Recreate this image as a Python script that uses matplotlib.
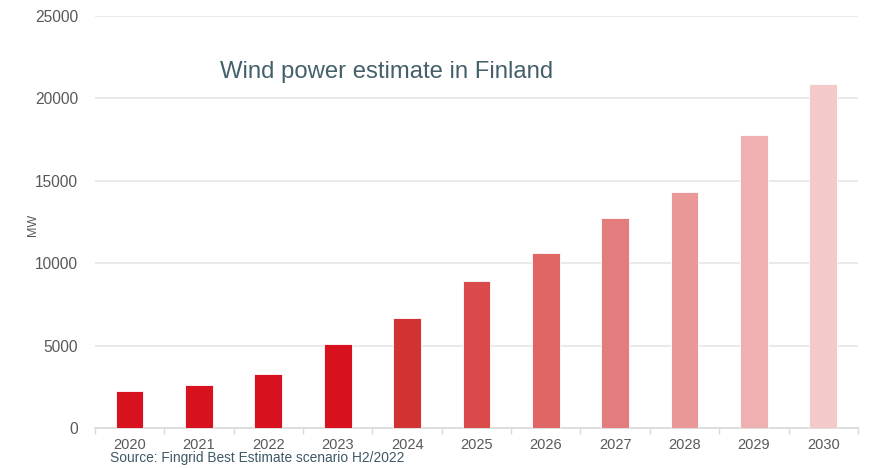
import matplotlib.pyplot as plt
import numpy as np

years = ['2020', '2021', '2022', '2023', '2024', '2025', '2026', '2027', '2028', '2029', '2030']
capacityMW = [2250, 2580, 3300, 5080, 6690, 8920, 10600, 12760, 14340, 17780, 20870]
barColors = ['#D7111E', '#D7111E', '#D7111E', '#D7111E', '#D23232', '#D94B4B',
             '#E06565', '#E37C7C', '#E99797', '#EEB0B0', '#F3C9C9']

plt.rcParams['font.family'] = ['Liberation Sans', 'DejaVu Sans']

fig = plt.figure(figsize=(8.71, 4.68), dpi=100)
ax = fig.add_axes([0.109, 0.0855, 0.876, 0.8805])

x = np.arange(len(years))
ax.bar(x, capacityMW, width=0.4, color=barColors, edgecolor='white', linewidth=0.6, zorder=3)

ax.set_xlim(-0.5, len(years) - 0.5)
ax.set_ylim(0, 25000)
ax.set_yticks(range(0, 25001, 5000))
ax.yaxis.grid(True, color='#E6E6E6', linewidth=1.2, zorder=0)
ax.set_xticks(x)
ax.set_xticklabels(years)
ax.set_xticks(np.arange(-0.5, len(years), 1), minor=True)
ax.tick_params(axis='x', which='major', length=0, pad=7, labelsize=10.5, labelcolor='#595959')
ax.tick_params(axis='x', which='minor', length=4, color='#D9D9D9', width=1)
ax.tick_params(axis='y', length=0, pad=12, labelsize=11.2, labelcolor='#595959')

for side in ['top', 'right', 'left']:
    ax.spines[side].set_visible(False)
ax.spines['bottom'].set_color('#D9D9D9')
ax.spines['bottom'].set_linewidth(1.2)

# y label placed manually so it sits near the left edge like the original
fig.text(0.038, 0.52, 'MW', fontsize=9, color='#595959', rotation=90, ha='center', va='center')

fig.text(0.253, 0.846, 'Wind power estimate in Finland', fontsize=17.2, color='#44606B', va='center')
fig.text(0.126, 0.013, 'Source: Fingrid Best Estimate scenario H2/2022', fontsize=9.9, color='#3E5866')

fig.savefig('out.png', dpi=100)
